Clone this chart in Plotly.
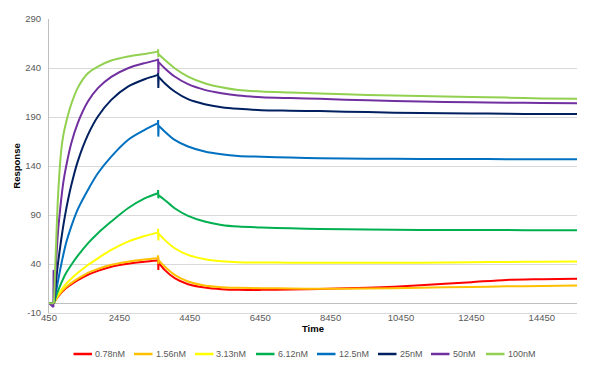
import plotly.graph_objects as go

# ---- data ----
series_names = ["0.78nM", "1.56nM", "3.13nM", "6.12nM", "12.5nM", "25nM", "50nM", "100nM"]
series_colors = ["#FF0000", "#FFC000", "#FFFF00", "#00B050", "#0070C0", "#002060", "#7030A0", "#92D050"]

baseline_t = [450, 590]
baseline_v = [0, 0]

assoc_t = [590, 620, 655, 700, 750, 797, 860, 939, 1081, 1270, 1555, 1839, 2219, 2693, 3167, 3546]
assoc_078 = [0, 2, 4, 6.3, 8.6, 10.5, 12.8, 15.5, 19.2, 23.5, 29, 33, 37.2, 40.3, 42.3, 43.5]
assoc_156 = [0, 2.2, 4.4, 6.8, 9.2, 11.3, 13.8, 16.6, 20.5, 25, 31, 35, 39.2, 42.4, 44.6, 45.8]
assoc_313 = [0, 2.5, 5, 8, 11, 13.5, 16.5, 20, 25, 31, 39, 45.8, 54.4, 62.8, 68.6, 72]
assoc_612 = [0, 3.5, 7.5, 12, 16.5, 20.5, 25.5, 31, 39, 48.5, 61, 71.4, 83.3, 96.9, 107, 112.2]
assoc_125 = [0, 6.5, 13, 21.5, 31, 39.5, 50, 62, 78.2, 96, 115.6, 132.6, 149.6, 166.6, 176.8, 183.7]
assoc_25 = [0, 11, 24, 39, 53, 65, 80, 96, 120, 145, 171.7, 190.5, 207.5, 221, 228.5, 233]
assoc_50 = [0, 20, 44, 70, 90, 106, 124, 140, 163, 184, 205.7, 219.4, 231, 239.8, 245, 248.3]
assoc_100 = [0, 30, 64, 105, 135, 156, 172, 185, 203, 220, 234.7, 241.5, 247.6, 251.7, 254.4, 256.7]

# injection-switch spikes at end of association (high, low)
spike_t = [3550, 3556]
spike_078 = [46.5, 34]
spike_156 = [49, 40]
spike_313 = [76, 64]
spike_612 = [115.5, 107]
spike_125 = [187, 170]
spike_25 = [235, 219.5]
spike_50 = [249.5, 235]
spike_100 = [259, 251]

diss_t = [3566, 3736, 4020, 4400, 4874, 5349, 5823, 6487, 7300, 8140, 9500, 11000, 12450, 13450, 14450, 15450]
diss_078 = [41.5, 34, 25.5, 19.4, 16, 14.3, 13.6, 13.6, 14, 14.6, 15.8, 18.2, 21.5, 23.8, 24.5, 25]
diss_156 = [44, 37.4, 28.9, 22.1, 18, 16.3, 15.7, 15.3, 15, 14.8, 15, 15.8, 16.6, 17.2, 17.6, 18]
diss_313 = [71, 64.6, 56.1, 49.3, 44.9, 42.8, 41.8, 41.5, 41.4, 41.4, 41.4, 41.4, 41.8, 42.1, 42.3, 42.5]
diss_612 = [110, 105.4, 96.9, 89.1, 83.3, 79.9, 78.2, 77.2, 76.4, 75.8, 75.2, 74.8, 74.7, 74.6, 74.5, 74.5]
diss_125 = [181, 175.2, 166.6, 159.9, 154.8, 152, 150.3, 149.5, 148.6, 148, 147.5, 147.2, 147.1, 147, 147, 147]
diss_25 = [231, 224.5, 216, 208.2, 203.1, 200, 198.3, 197, 196.5, 196, 195, 194, 193.6, 193.3, 193.1, 193]
diss_50 = [246, 239.8, 231.3, 223.5, 217.7, 214.3, 211.9, 210.2, 209.3, 208.5, 207, 205.7, 205, 204.6, 204.3, 204]
diss_100 = [254, 248.3, 239.8, 231.3, 224.5, 220.4, 217.6, 216, 215, 214, 212.5, 211.5, 210.5, 209.8, 209, 208.5]

# small start artefact seen on the 50nM trace
start_spike_t = [575, 580, 590]
start_spike_50 = [-4, 34, 0]

assoc_all = [assoc_078, assoc_156, assoc_313, assoc_612, assoc_125, assoc_25, assoc_50, assoc_100]
spike_all = [spike_078, spike_156, spike_313, spike_612, spike_125, spike_25, spike_50, spike_100]
diss_all = [diss_078, diss_156, diss_313, diss_612, diss_125, diss_25, diss_50, diss_100]

x_ticks = [450, 2450, 4450, 6450, 8450, 10450, 12450, 14450]
y_ticks = [-10, 40, 90, 140, 190, 240, 290]

# ---- figure (page body adds an 8px offset, so the figure is 8px smaller) ----
OFF = 8
W, H = 600 - OFF, 368 - OFF
ML, MR, MT, MB = 41, 23, 11, 55
PW, PH = W - ML - MR, H - MT - MB

fig = go.Figure()
for i, name in enumerate(series_names):
    col = series_colors[i]
    lw = 2
    bx, by = list(baseline_t), list(baseline_v)
    if name == "50nM":
        bx = bx[:1] + start_spike_t
        by = by[:1] + start_spike_50
    fig.add_trace(go.Scatter(x=bx, y=by, mode="lines", line=dict(color=col, width=lw),
                             legendgroup=name, showlegend=False, hoverinfo="skip"))
    fig.add_trace(go.Scatter(x=assoc_t, y=assoc_all[i], mode="lines", name=name,
                             line=dict(color=col, width=lw, shape="spline", smoothing=0.8),
                             legendgroup=name, showlegend=False))
    fig.add_trace(go.Scatter(x=assoc_t[-1:] + spike_t + diss_t[:1],
                             y=assoc_all[i][-1:] + spike_all[i] + diss_all[i][:1],
                             mode="lines", line=dict(color=col, width=lw),
                             legendgroup=name, showlegend=False, hoverinfo="skip"))
    fig.add_trace(go.Scatter(x=diss_t, y=diss_all[i], mode="lines", name=name,
                             line=dict(color=col, width=lw, shape="spline", smoothing=0.8),
                             legendgroup=name, showlegend=False))

# ---- Excel-style legend below the plot (line swatch + label), page pixels ----
legend_px_start = [73.5, 134, 195, 256, 317, 378, 431, 486]
legend_py = 354
swatch_len = 18.5
for i, name in enumerate(series_names):
    x0 = (legend_px_start[i] - OFF - ML) / PW
    x1 = (legend_px_start[i] + swatch_len - OFF - ML) / PW
    yy = (MT + PH - (legend_py - OFF)) / PH
    fig.add_shape(type="line", xref="paper", yref="paper", x0=x0, x1=x1, y0=yy, y1=yy,
                  line=dict(color=series_colors[i], width=2.5))
    fig.add_annotation(xref="paper", yref="paper", x=x1 + 1 / PW, y=yy, text=name,
                       showarrow=False, xanchor="left", yanchor="middle",
                       font=dict(size=9, color="#595959"))

font_fam = "Liberation Sans, Arial, sans-serif"
fig.update_layout(
    width=W, height=H,
    margin=dict(l=ML, r=MR, t=MT, b=MB, autoexpand=False),
    paper_bgcolor="white", plot_bgcolor="white",
    font=dict(family=font_fam, size=9, color="#595959"),
    showlegend=False,
    xaxis=dict(range=[450, 15450], tickmode="array", tickvals=x_ticks,
               ticktext=[str(v) for v in x_ticks], showgrid=False, automargin=False,
               showline=True, linecolor="#d9d9d9", linewidth=1, zeroline=False,
               ticks="", ticklabelstandoff=-4, tickfont=dict(size=9.5, color="#595959"),
               title=dict(text="<b>Time</b>", font=dict(size=9.5, color="#000000"), standoff=2)),
    yaxis=dict(range=[-10, 290], tickmode="array", tickvals=y_ticks,
               ticktext=[str(v) for v in y_ticks], showgrid=True, gridcolor="#d9d9d9",
               gridwidth=1, showline=True, linecolor="#bfbfbf", linewidth=1, automargin=False,
               zeroline=True, zerolinecolor="#bfbfbf", zerolinewidth=1,
               ticks="", ticklabelstandoff=5, tickfont=dict(size=9.5, color="#595959"),
               title=dict(text="<b>Response</b>", font=dict(size=9.5, color="#000000"), standoff=2)),
)

fig.write_html("out.html")
